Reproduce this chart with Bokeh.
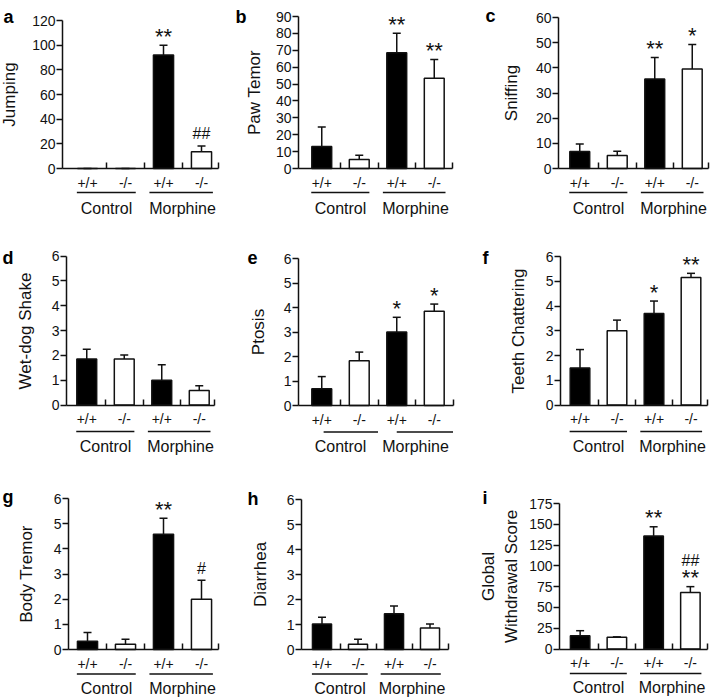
from bokeh.plotting import figure
from bokeh.layouts import row, column
from bokeh.models import Range1d, FixedTicker, ColumnDataSource, Whisker, TeeHead
from bokeh.core.properties import value
from bokeh.embed import file_html
from bokeh.resources import INLINE

# ---------------- data ----------------
genotypes = ["+/+", "-/-", "+/+", "-/-"]
treatments = ["Control", "Morphine"]

jumping_mean = [0, 0, 92, 13.5]
jumping_sem = [0, 0, 8, 4.8]
jumping_sig = ["", "", "**", "##"]

paw_mean = [13, 5.3, 68.5, 53.5]
paw_sem = [11.5, 2.6, 11.6, 11]
paw_sig = ["", "", "**", "**"]

sniff_mean = [6.8, 5.2, 35.6, 39.5]
sniff_sem = [2.9, 1.7, 8.5, 9.8]
sniff_sig = ["", "", "**", "*"]

wetdog_mean = [1.85, 1.85, 1.0, 0.58]
wetdog_sem = [0.4, 0.16, 0.62, 0.2]
wetdog_sig = ["", "", "", ""]

ptosis_mean = [0.68, 1.83, 3.0, 3.85]
ptosis_sem = [0.5, 0.35, 0.6, 0.29]
ptosis_sig = ["", "", "*", "*"]

teeth_mean = [1.5, 3.0, 3.7, 5.15]
teeth_sem = [0.74, 0.43, 0.5, 0.17]
teeth_sig = ["", "", "*", "**"]

body_mean = [0.33, 0.21, 4.58, 2.0]
body_sem = [0.35, 0.2, 0.64, 0.75]
body_sig = ["", "", "**", "#"]

diarrhea_mean = [1.02, 0.21, 1.43, 0.86]
diarrhea_sem = [0.27, 0.2, 0.31, 0.16]
diarrhea_sig = ["", "", "", ""]

global_mean = [16, 14, 136, 68]
global_sem = [6, 0.6, 11, 7]
global_sig = ["", "", "**", "**"]
global_sig2 = ["", "", "", "##"]

# ---------------- layout (page pixels) ----------------
FONT = "Liberation Sans"
COL_X = [0, 232, 462]
COL_W = [232, 230, 248]
ROW_Y = [0, 228, 462]
ROW_H = [228, 234, 238]

# L (y-axis x), R (x-axis end), t1, t3 (group separators), ytop (ymax), y0 (zero)
GEOM = {
    "a": (62, 218, 106, 182, 20, 168),
    "b": (298, 452, 340, 415, 16, 168),
    "c": (558, 708, 598, 673, 17, 168),
    "d": (66, 214, 105, 180, 255.5, 404.5),
    "e": (298, 453, 340, 415, 258, 405),
    "f": (560, 707, 598, 672, 256, 404.5),
    "g": (68, 218, 106, 182, 498, 649),
    "h": (301, 448, 339.5, 411.5, 499, 649),
    "i": (559, 707, 598, 671.5, 503, 648.5),
}
LETTER_POS = {"a": (3, 16), "b": (235, 16), "c": (485, 15), "d": (2, 257), "e": (247, 257),
              "f": (482, 257), "g": (2, 496), "h": (247, 498), "i": (482, 497)}
UNDERLINES = {"e": [(0.55, 2.0), (2.5, 4.0)]}
DEFAULT_UNDERLINES = [(0.22, 1.77), (2.13, 3.8)]
GROUP_DY = {0: 40, 1: 41, 2: 38.5}
UNDER_DY = {0: 24, 1: 26.5, 2: 24.5}

INK = "#111111"


def make_panel(key, col, rw, ylabel, mean, sem, sig, ymax, ystep, label_standoff, sig2=None):
    L, R, t1, t3, ytop, y0 = GEOM[key]
    cw = (t3 - t1) / 2.0
    upp = ymax / (y0 - ytop)

    def fx(px):
        return 1.0 + (px - t1) / cw

    def fy(py):
        return (y0 - py) * upp

    X0, W = COL_X[col], COL_W[col]
    Y0, H = ROW_Y[rw], ROW_H[rw]
    p = figure(width=W, height=H, x_range=Range1d(fx(X0), fx(X0 + W)),
               y_range=Range1d(fy(Y0 + H), fy(Y0)), output_backend="svg",
               toolbar_location=None, min_border=0, outline_line_color=None,
               background_fill_color="white", border_fill_color="white")
    p.grid.visible = False

    xs = [i + 0.5 for i in range(len(mean))]
    tops = [m + s for m, s in zip(mean, sem)]
    src = ColumnDataSource(dict(x=xs, mean=mean, top=tops,
                                fill=["black", "white", "black", "white"]))
    p.add_layout(Whisker(source=src, base="x", lower="mean", upper="top", dimension="height",
                         lower_head=None,
                         upper_head=TeeHead(size=8, line_width=1.5, line_color=INK),
                         line_width=1.5, line_color=INK, level="underlay"))
    p.vbar(x="x", top="mean", bottom=0, width=0.53, fill_color="fill", line_color=INK,
           line_width=1.5, source=src)

    # significance marks
    def put_marks(marks, extra_px):
        for i, s in enumerate(marks):
            if not s:
                continue
            if "*" in s:
                size, off = "22px", 9 + extra_px
            else:
                size, off = "16px", 12 + extra_px
            p.text(x=[xs[i]], y=[tops[i] + off * upp], text=[s], text_font=value(FONT),
                   text_font_size=size, text_align="center", text_baseline="alphabetic",
                   text_color=INK)

    put_marks(sig, 0)
    if sig2 is not None:
        put_marks(sig2, 14)

    # group underlines and labels
    uy = fy(y0 + UNDER_DY[rw])
    segs = UNDERLINES.get(key, DEFAULT_UNDERLINES)
    p.segment(x0=[s[0] for s in segs], x1=[s[1] for s in segs], y0=[uy, uy], y1=[uy, uy],
              line_color=INK, line_width=1.5)
    gy = fy(y0 + GROUP_DY[rw])
    p.text(x=[1.0, 3.0], y=[gy, gy], text=treatments, text_font=value(FONT),
           text_font_size="16px", text_align="center", text_baseline="middle", text_color=INK)

    # panel letter
    lx, ly = LETTER_POS[key]
    p.text(x=[fx(lx)], y=[fy(ly)], text=[key], text_font=value(FONT), text_font_style="bold",
           text_font_size="18px", text_align="left", text_baseline="alphabetic", text_color="black")

    # x axis at zero
    xa = p.xaxis[0]
    xa.fixed_location = 0
    xa.ticker = FixedTicker(ticks=xs, minor_ticks=[1, 2, 3, fx(R) - 1e-6])
    xa.major_label_overrides = {x: g for x, g in zip(xs, genotypes)}
    xa.bounds = (fx(L), fx(R))
    xa.axis_line_width = 1.5
    xa.axis_line_color = INK
    xa.major_tick_in = 0
    xa.major_tick_out = 0
    xa.minor_tick_in = 6
    xa.minor_tick_out = 0
    xa.minor_tick_line_width = 1.5
    xa.minor_tick_line_color = INK
    xa.major_label_text_font = FONT
    xa.major_label_text_font_size = "14px"
    xa.major_label_text_color = INK
    xa.major_label_standoff = 6

    # y axis
    ya = p.yaxis[0]
    ya.fixed_location = fx(L)
    ya.ticker = FixedTicker(ticks=list(range(0, ymax + 1, ystep)))
    ya.bounds = (0, ymax)
    ya.axis_line_width = 1.5
    ya.axis_line_color = INK
    ya.major_tick_in = 0
    ya.major_tick_out = 6
    ya.major_tick_line_width = 1.5
    ya.major_tick_line_color = INK
    ya.minor_tick_out = 0
    ya.minor_tick_in = 0
    ya.major_label_text_font = FONT
    ya.major_label_text_font_size = "14px"
    ya.major_label_text_color = INK
    ya.major_label_standoff = 1
    ya.axis_label = ylabel
    ya.axis_label_text_font = FONT
    ya.axis_label_text_font_size = "17px"
    ya.axis_label_text_font_style = "normal"
    ya.axis_label_text_color = INK
    ya.axis_label_standoff = label_standoff
    return p


pa = make_panel("a", 0, 0, "Jumping", jumping_mean, jumping_sem, jumping_sig, 120, 20, 10)
pb = make_panel("b", 1, 0, "Paw Temor", paw_mean, paw_sem, paw_sig, 90, 10, 9)
pc = make_panel("c", 2, 0, "Sniffing", sniff_mean, sniff_sem, sniff_sig, 60, 10, 12)
pd = make_panel("d", 0, 1, "Wet-dog Shake", wetdog_mean, wetdog_sem, wetdog_sig, 6, 1, 14)
pe = make_panel("e", 1, 1, "Ptosis", ptosis_mean, ptosis_sem, ptosis_sig, 6, 1, 13)
pf = make_panel("f", 2, 1, "Teeth Chattering", teeth_mean, teeth_sem, teeth_sig, 6, 1, 15)
pg = make_panel("g", 0, 2, "Body Tremor", body_mean, body_sem, body_sig, 6, 1, 15)
ph = make_panel("h", 1, 2, "Diarrhea", diarrhea_mean, diarrhea_sem, diarrhea_sig, 6, 1, 14)
pi = make_panel("i", 2, 2, "Global\nWithdrawal Score", global_mean, global_sem, global_sig,
                175, 25, 5, sig2=global_sig2)

layout = column(row(pa, pb, pc), row(pd, pe, pf), row(pg, ph, pi))

open("out.html", "w").write(file_html(layout, INLINE))
